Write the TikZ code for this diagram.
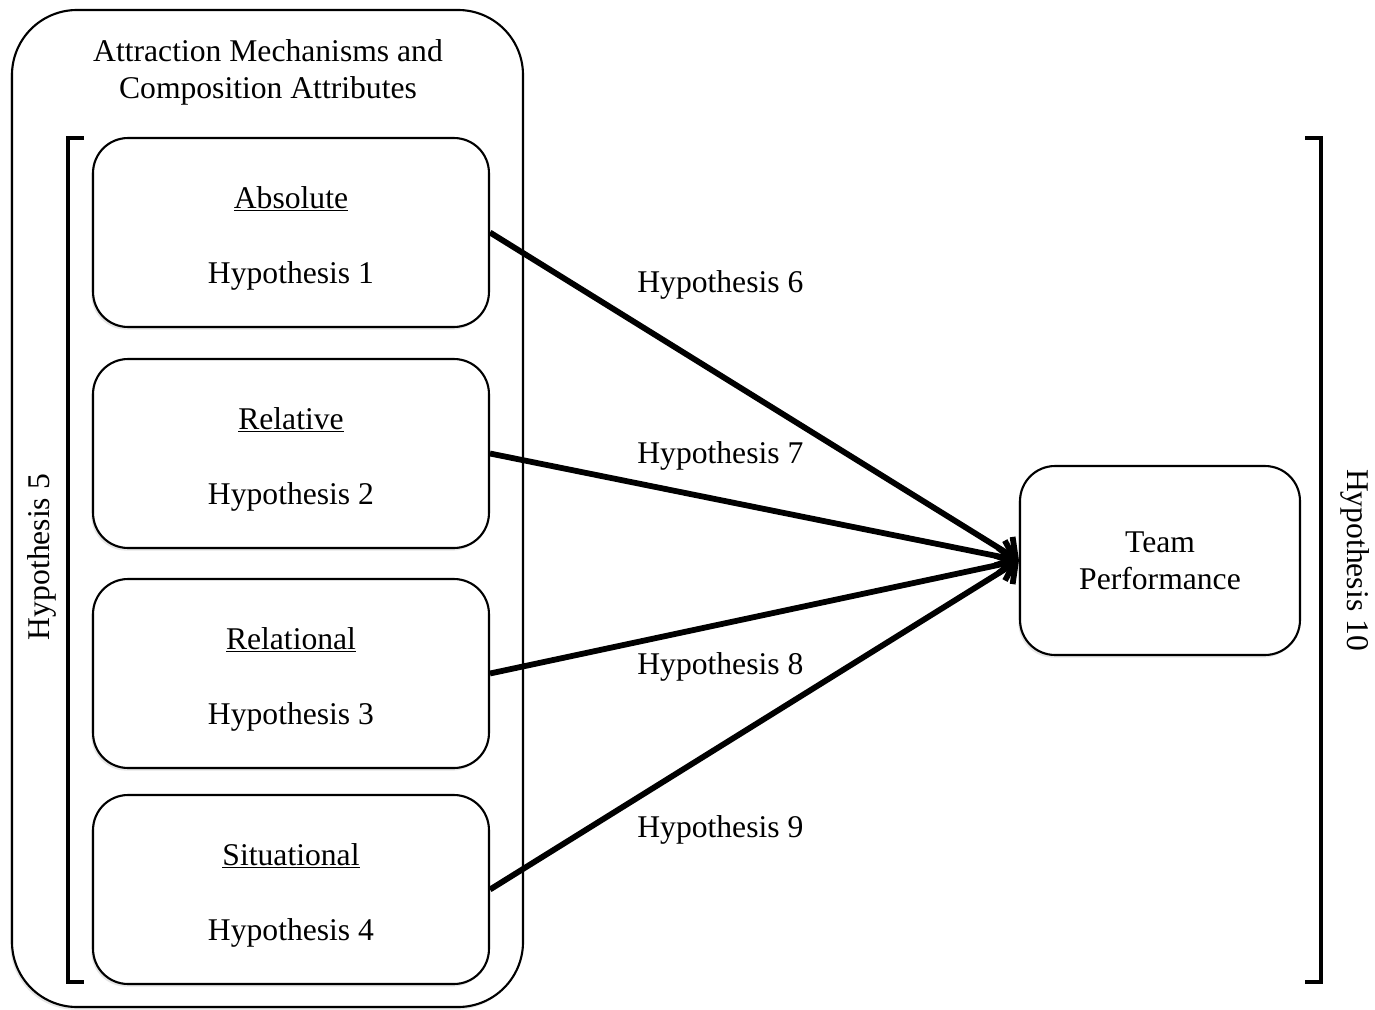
\documentclass[tikz,border=0pt]{standalone}
\usepackage{fontspec}
\setmainfont{Liberation Serif}
\usetikzlibrary{
    arrows.meta,
    shadows
}
\newcommand{\boxlabel}[2]{\rule{0pt}{19pt}\underline{#1}\\[22pt]#2}
\tikzset {
    soft shadow/.style = {drop shadow = {shadow xshift = -1pt, shadow yshift = -1.5pt, opacity = .2}},
    group box/.style = {draw, fill = white, line width = 1.2pt, rounded corners = 1.3cm, soft shadow},
    mech box/.style = {
        draw, fill = white, line width = 1.2pt, rounded corners = 0.7cm,
        minimum width = 7.92cm, minimum height = 3.78cm, align = center,
        soft shadow
    },
    team box/.style = {
        draw, fill = white, line width = 1.2pt, rounded corners = 0.7cm,
        minimum width = 5.6cm, minimum height = 3.78cm, align = center,
        soft shadow
    },
    bracket/.style = {line width = 2.6pt},
    hyp arrow/.style = {line width = 3.3pt, -{Straight Barb[length = 8pt, width = 19pt]}},
    label/.style = {inner sep = 0pt, anchor = west}
}

\begin{document}
\begin{tikzpicture}[x = 0.02cm, y = -0.02cm, font = \fontsize{18}{21}\selectfont]
            \useasboundingbox (0, 0) rectangle (1375, 1010);
            \draw [group box] (12, 10) rectangle (523, 1007);
            \node (title) [align = center] at (268, 72) {Attraction Mechanisms and\\Composition Attributes};
            % four mechanism boxes
            \node (abs) [mech box] at (291, 232.5) {\boxlabel{Absolute}{Hypothesis 1}};
            \node (rel) [mech box] at (291, 453.5) {\boxlabel{Relative}{Hypothesis 2}};
            \node (relal) [mech box] at (291, 673.5) {\boxlabel{Relational}{Hypothesis 3}};
            \node (sit) [mech box] at (291, 889.5) {\boxlabel{Situational}{Hypothesis 4}};
            \node (team) [team box] at (1160, 560.5) {Team\\Performance};
            % brackets
            \draw [bracket] (84, 138) -- (68, 138) -- (68, 982) -- (84, 982);
            \draw [bracket] (1305, 138) -- (1321, 138) -- (1321, 982) -- (1305, 982);
            \node (h5) [rotate = 90] at (42, 557) {Hypothesis 5};
            \node (h10) [rotate = -90] at (1355, 560) {Hypothesis 10};
            % paths to performance
            \draw [hyp arrow] (abs.east) -- (team.west);
            \draw [hyp arrow] (rel.east) -- (team.west);
            \draw [hyp arrow] (relal.east) -- (team.west);
            \draw [hyp arrow] (sit.east) -- (team.west);
            \node (h6) [label] at (637, 285) {Hypothesis 6};
            \node (h7) [label] at (637, 456) {Hypothesis 7};
            \node (h8) [label] at (637, 667) {Hypothesis 8};
            \node (h9) [label] at (637, 830) {Hypothesis 9};
        \end{tikzpicture}
\end{document}
